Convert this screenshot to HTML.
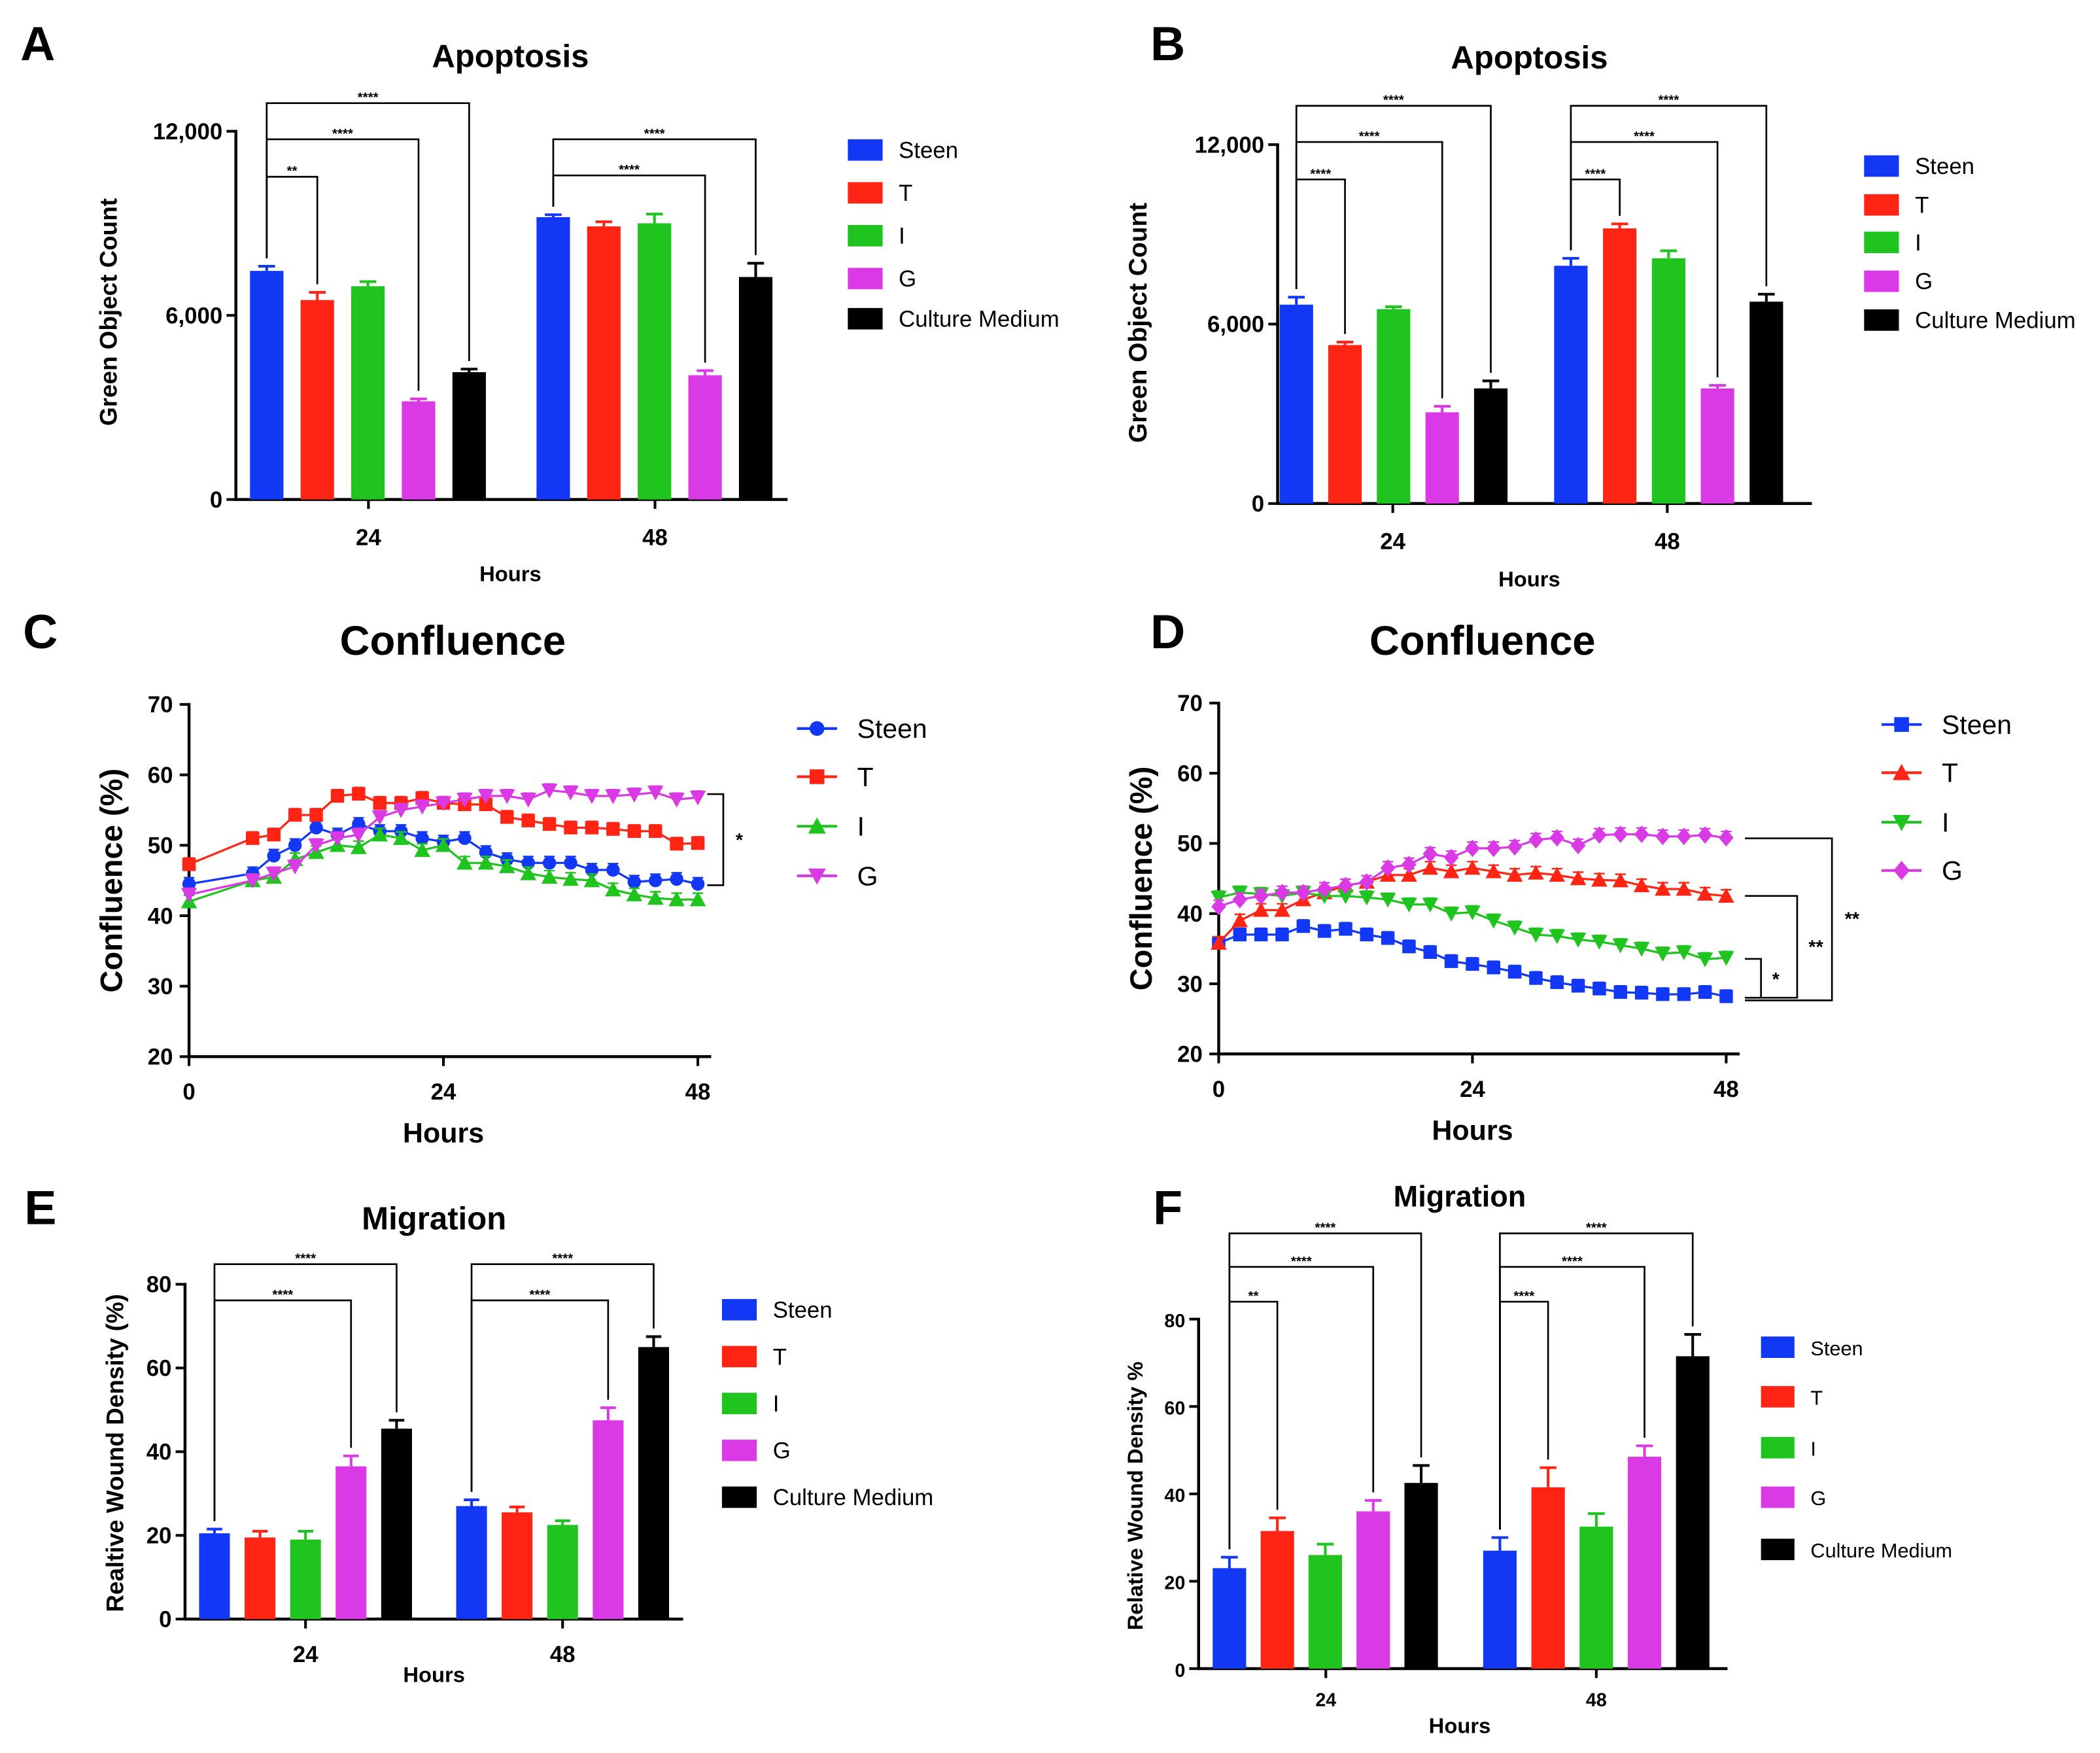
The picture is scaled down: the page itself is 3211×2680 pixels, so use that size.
<!DOCTYPE html>
<html><head><meta charset="utf-8"><style>
html,body{margin:0;padding:0;background:#fff}
svg{display:block;font-family:"Liberation Sans",Arial,sans-serif}
</style></head><body>
<svg id="fig" width="3211" height="2680" viewBox="0 0 1568 1309" xmlns="http://www.w3.org/2000/svg"></svg>
<script>
// ---------- data ----------
const groupLabels = ["24","48"];
const seriesNames = ["Steen","T","I","G","Culture Medium"];
const lineNames = ["Steen","T","I","G"];
const colors = ["#1238f5","#ff2414","#1fc41f","#d93ae6","#000000"];

const aValues = [[7450,6500,6950,3200,4150],[9200,8900,9000,4050,7250]];
const aErrors = [[150,250,150,80,100],[80,150,300,150,450]];
const bValues = [[6650,5300,6500,3050,3850],[7950,9200,8200,3850,6750]];
const bErrors = [[250,100,80,200,250],[250,150,250,100,250]];
const eValues = [[20.5,19.5,19,36.5,45.5],[27,25.5,22.5,47.5,65]];
const eErrors = [[1,1.5,2,2.5,2],[1.5,1.3,1,3,2.5]];
const fValues = [[23,31.5,26,36,42.5],[27,41.5,32.5,48.5,71.5]];
const fErrors = [[2.5,3,2.5,2.5,4],[3,4.5,3,2.5,5]];

const cTimes = [0,6,8,10,12,14,16,18,20,22,24,26,28,30,32,34,36,38,40,42,44,46,48];
const cSteen = [44.5,46,48.5,50,52.5,51.5,53,52,52,51,50.5,51,49,48,47.5,47.5,47.5,46.5,46.5,44.8,45,45.2,44.5];
const cT = [47.3,51,51.5,54.3,54.3,57,57.3,56,56,56.7,56,55.8,55.8,54,53.5,53,52.5,52.5,52.3,52,52,50.2,50.3];
const cI = [42,45,45.5,48,49,50,49.7,51.5,51,49.3,50,47.5,47.5,47,46,45.5,45.2,45,43.7,43,42.5,42.3,42.3];
const cG = [43,45,46,47,50,51,51.5,54,55,55.5,56,56.5,57,57,56.5,57.8,57.5,57,57,57.2,57.5,56.5,56.8];

const dTimes = [0,2,4,6,8,10,12,14,16,18,20,22,24,26,28,30,32,34,36,38,40,42,44,46,48];
const dSteen = [35.8,37,37,37,38.2,37.5,37.8,37,36.5,35.3,34.5,33.2,32.8,32.3,31.7,30.8,30.2,29.7,29.3,28.8,28.7,28.5,28.5,28.8,28.2];
const dT = [35.8,39,40.5,40.5,42,43,44,44.5,45.5,45.5,46.5,46,46.5,46,45.5,45.8,45.5,45,44.8,44.7,44,43.5,43.5,42.8,42.5];
const dI = [42.3,43,42.8,42.5,43,42.5,42.5,42.3,42,41.3,41.3,40,40.2,39,38,37,36.8,36.3,36,35.5,35,34.3,34.5,33.5,33.7];
const dG = [41,42,42.5,43,43,43.5,44,44.5,46.5,47,48.5,48,49.3,49.3,49.5,50.5,50.8,49.7,51.2,51.3,51.3,51,51,51.2,50.8];

const yTicksApop = [0,6000,12000];
const yTickLabelsApop = ["0","6,000","12,000"];
const yTicksConf = [20,30,40,50,60,70];
const xTicksConf = [0,24,48];
const yTicksMig = [0,20,40,60,80];

// ---------- helpers ----------
const svg = document.getElementById('fig');
const NS = "http://www.w3.org/2000/svg";
function mk(tag, attrs, parent){
  const e = document.createElementNS(NS, tag);
  for (const k in attrs) e.setAttribute(k, attrs[k]);
  (parent||svg).appendChild(e);
  return e;
}
function txt(x,y,s,size,opts,parent){
  const e = mk('text',Object.assign({x:x,y:y,'font-size':size,'font-weight':'bold','text-anchor':'middle','fill':'#000'},opts||{}),parent);
  e.textContent = s;
  return e;
}
function lin(d0,d1,r0,r1){return v=>r0+(v-d0)*(r1-r0)/(d1-d0);}

// ---------- bar panel ----------
function barPanel(p){
  const g = mk('g',{});
  
  
  const y = lin(0,p.ymax,p.y0,p.y1);
  const title = txt(p.titleX,p.titleY,p.title,p.titleSize,{},g);
  
  
  const letter = txt(p.letterX,p.letterY,p.letter,36,{'font-weight':'900'},g);
  
  
  // axes
  const ya = mk('line',{x1:p.ax,y1:p.y0,x2:p.ax,y2:p.y1-1,stroke:'#000','stroke-width':2.2},g);
  
  
  const xa = mk('line',{x1:p.ax-1,y1:p.y0,x2:p.axEnd,y2:p.y0,stroke:'#000','stroke-width':2.2},g);
  
  
  p.ticks.forEach((t,i)=>{
    mk('line',{x1:p.ax-7,y1:y(t),x2:p.ax,y2:y(t),stroke:'#000','stroke-width':2},g);
    const tl = txt(p.ax-10,y(t)+6,p.tickLabels[i],p.tickSize,{'text-anchor':'end'},g);
    
    
  });
  const yl = txt(0,0,p.ylabel,p.ylabelSize,{transform:`translate(${p.ylabelX},${p.ylabelY}) rotate(-90)`},g);
  
  
  p.groupCenters.forEach((gc,gi)=>{
    mk('line',{x1:gc,y1:p.y0,x2:gc,y2:p.y0+7,stroke:'#000','stroke-width':2},g);
    const xl = txt(gc,p.y0+p.xlabelDy,groupLabels[gi],p.tickSize,{},g);
    
    
    p.values[gi].forEach((v,si)=>{
      const cx = p.barX[gi][si];
      const b = mk('rect',{x:cx-p.bw/2,y:y(v),width:p.bw,height:p.y0-y(v),fill:colors[si]},g);
      
      
      const et = y(v+p.errors[gi][si]);
      mk('line',{x1:cx,y1:y(v),x2:cx,y2:et,stroke:colors[si],'stroke-width':2},g);
      mk('line',{x1:cx-p.bw/4,y1:et,x2:cx+p.bw/4,y2:et,stroke:colors[si],'stroke-width':2},g);
    });
  });
  const xt = txt(p.hoursX,p.hoursY,'Hours',p.hoursSize,{},g);
  
  
  // brackets
  p.brackets.forEach(br=>{
    const [gi,a,b,by,label]=br;
    const xa_=p.barX[gi][a], xb=p.barX[gi][b];
    const ya_=y(p.values[gi][a]+p.errors[gi][a])-6, yb=y(p.values[gi][b]+p.errors[gi][b])-6;
    const pl = mk('polyline',{points:`${xa_},${ya_} ${xa_},${by} ${xb},${by} ${xb},${yb}`,fill:'none',stroke:'#000','stroke-width':1.3},g);
    
    
    const s = txt((xa_+xb)/2,by-1,label,10,{},g);
    
    
  });
  // legend
  seriesNames.forEach((n,i)=>{
    const ly = p.legY[i];
    const r = mk('rect',{x:p.legX,y:ly-8,width:p.legW,height:16,fill:colors[i]},g);
    
    
    const t = txt(p.legX+p.legW+12,ly+6,n,p.legSize,{'text-anchor':'start','font-weight':'normal'},g);
    
    
  });
}

// ---------- line panel ----------
function marker(g,shape,x,y,c,s){
  let e;
  if(shape==='circle') e=mk('circle',{cx:x,cy:y,r:s,fill:c},g);
  else if(shape==='square') e=mk('rect',{x:x-s,y:y-s,width:2*s,height:2*s,fill:c},g);
  else if(shape==='up') e=mk('polygon',{points:`${x},${y-s*1.2} ${x-s*1.2},${y+s} ${x+s*1.2},${y+s}`,fill:c},g);
  else if(shape==='down') e=mk('polygon',{points:`${x},${y+s*1.2} ${x-s*1.2},${y-s} ${x+s*1.2},${y-s}`,fill:c},g);
  else e=mk('polygon',{points:`${x},${y-s*1.3} ${x+s*1.1},${y} ${x},${y+s*1.3} ${x-s*1.1},${y}`,fill:c},g);
  return e;
}
function linePanel(p){
  const g = mk('g',{});
  
  
  const x = lin(0,48,p.ax,p.x48), y = lin(20,70,p.y20,p.y70);
  const title = txt(p.titleX,p.titleY,'Confluence',31,{},g);
  
  
  const letter = txt(p.letterX,p.letterY,p.letter,36,{'font-weight':'900'},g);
  
  
  const ya = mk('line',{x1:p.ax,y1:p.y20,x2:p.ax,y2:p.y70-1,stroke:'#000','stroke-width':2.2},g);
  
  
  const xa = mk('line',{x1:p.ax-1,y1:p.y20,x2:p.x48+10,y2:p.y20,stroke:'#000','stroke-width':2.2},g);
  
  
  yTicksConf.forEach(t=>{
    mk('line',{x1:p.ax-7,y1:y(t),x2:p.ax,y2:y(t),stroke:'#000','stroke-width':2},g);
    const tl = txt(p.ax-12,y(t)+6,String(t),17,{'text-anchor':'end'},g);
    
    
  });
  xTicksConf.forEach(t=>{
    mk('line',{x1:x(t),y1:p.y20,x2:x(t),y2:p.y20+7,stroke:'#000','stroke-width':2},g);
    const tl = txt(x(t),p.y20+32,String(t),17,{},g);
    
    
  });
  const yl = txt(0,0,'Confluence (%)',23,{transform:`translate(${p.ax-50},${y(45)}) rotate(-90)`},g);
  
  
  const xt = txt(x(24),p.y20+64,'Hours',21,{},g);
  
  
  p.series.forEach((s,si)=>{
    const pts = p.times.map((t,i)=>`${x(t)},${y(s[i])}`).join(' ');
    const l = mk('polyline',{points:pts,fill:'none',stroke:colors[si],'stroke-width':1.6},g);
    
    
    p.times.forEach((t,i)=>{
      const ey = y(s[i]+0.9);
      mk('line',{x1:x(t),y1:ey,x2:x(t),y2:y(s[i]),stroke:colors[si],'stroke-width':1.2},g);
      mk('line',{x1:x(t)-4,y1:ey,x2:x(t)+4,y2:ey,stroke:colors[si],'stroke-width':1.2},g);
      const m = marker(g,p.shapes[si],x(t),y(s[i]),colors[si],5);
      
      
    });
  });
  lineNames.forEach((n,i)=>{
    const ly = p.legY[i];
    mk('line',{x1:p.legX,y1:ly,x2:p.legX+30,y2:ly,stroke:colors[i],'stroke-width':2},g);
    const mm = marker(g,p.shapes[i],p.legX+15,ly,colors[i],5.5);
    
    
    const t = txt(p.legX+45,ly+7,n,20,{'text-anchor':'start','font-weight':'normal'},g);
    
    
  });
  p.brackets.forEach(b=>{
    const [x1,y1,x2,y2,lab,lx,lyy]=b;
    const pl = mk('polyline',{points:`${x1},${y1} ${x2},${y1} ${x2},${y2} ${x1},${y2}`,fill:'none',stroke:'#000','stroke-width':1.3},g);
    
    
    const s = txt(lx,lyy,lab,14,{},g);
    
    
  });
}

function centers(start,step,n){const a=[];for(let i=0;i<n;i++)a.push(start+i*step);return a;}

// Panel A
barPanel({name:'panel-a-apoptosis',letter:'A',letterX:28,letterY:45,title:'Apoptosis',titleX:381,titleY:50,titleSize:24,
  ax:176,axEnd:588,y0:373,y1:98,ymax:12000,ticks:yTicksApop,tickLabels:yTickLabelsApop,tickSize:17,
  ylabel:'Green Object Count',ylabelX:87,ylabelY:233,ylabelSize:18,
  groupCenters:[275,489],barX:[centers(199,37.8,5),centers(413,37.8,5)],bw:25,xlabelDy:34,
  values:aValues,errors:aErrors,hoursX:381,hoursY:434,hoursSize:16,
  brackets:[[0,0,1,132,'**'],[0,0,3,104,'****'],[0,0,4,77,'****'],[1,0,3,131,'****'],[1,0,4,104,'****']],
  legX:633,legW:26,legY:[112,144,176,208,238],legSize:17});
// Panel B
barPanel({name:'panel-b-apoptosis',letter:'B',letterX:872,letterY:45,title:'Apoptosis',titleX:1142,titleY:51,titleSize:24,
  ax:954,axEnd:1353,y0:376,y1:108,ymax:12000,ticks:yTicksApop,tickLabels:yTickLabelsApop,tickSize:17,
  ylabel:'Green Object Count',ylabelX:856,ylabelY:241,ylabelSize:19,
  groupCenters:[1040,1245],barX:[centers(968,36.3,5),centers(1173,36.5,5)],bw:25,xlabelDy:34,
  values:bValues,errors:bErrors,hoursX:1142,hoursY:438,hoursSize:16,
  brackets:[[0,0,1,134,'****'],[0,0,3,106,'****'],[0,0,4,79,'****'],[1,0,1,134,'****'],[1,0,3,106,'****'],[1,0,4,79,'****']],
  legX:1392,legW:26,legY:[124,153,181,210,239],legSize:17});
// Panel C
linePanel({name:'panel-c-confluence',letter:'C',letterX:30,letterY:484,titleX:338,titleY:489,
  ax:141,x48:521,y20:789,y70:526,times:cTimes,series:[cSteen,cT,cI,cG],shapes:['circle','square','up','down'],
  legX:595,legY:[544,580,617,654],
  brackets:[[528,593,540,661,'*',552,632]]});
// Panel D
linePanel({name:'panel-d-confluence',letter:'D',letterX:872,letterY:484,titleX:1107,titleY:489,
  ax:910,x48:1289,y20:787,y70:525,times:dTimes,series:[dSteen,dT,dI,dG],shapes:['square','up','down','diamond'],
  legX:1405,legY:[541,577,614,650],
  brackets:[[1303,716,1315,745,'*',1326,736],[1303,669,1342,745,'**',1356,712],[1303,626,1368,747,'**',1383,691]]});
// Panel E
barPanel({name:'panel-e-migration',letter:'E',letterX:30,letterY:914,title:'Migration',titleX:324,titleY:918,titleSize:24,
  ax:138,axEnd:510,y0:1209,y1:959,ymax:80,ticks:yTicksMig,tickLabels:yTicksMig.map(String),tickSize:17,
  ylabel:'Realtive Wound Density (%)',ylabelX:92,ylabelY:1085,ylabelSize:18,
  groupCenters:[228,420],barX:[centers(160,34,5),centers(352,34,5)],bw:23,xlabelDy:32,
  values:eValues,errors:eErrors,hoursX:324,hoursY:1256,hoursSize:16,
  brackets:[[0,0,3,971,'****'],[0,0,4,944,'****'],[1,0,3,971,'****'],[1,0,4,944,'****']],
  legX:539,legW:26,legY:[978,1013,1048,1083,1118],legSize:17});
// Panel F
barPanel({name:'panel-f-migration',letter:'F',letterX:872,letterY:914,title:'Migration',titleX:1090,titleY:901,titleSize:22,
  ax:895,axEnd:1290,y0:1246,y1:985,ymax:80,ticks:yTicksMig,tickLabels:yTicksMig.map(String),tickSize:14,
  ylabel:'Relative Wound Density %',ylabelX:853,ylabelY:1117,ylabelSize:16,
  groupCenters:[990,1192],barX:[centers(918,35.8,5),centers(1120,36,5)],bw:25,xlabelDy:28,
  values:fValues,errors:fErrors,hoursX:1090,hoursY:1294,hoursSize:16,
  brackets:[[0,0,1,972,'**'],[0,0,3,946,'****'],[0,0,4,921,'****'],[1,0,1,972,'****'],[1,0,3,946,'****'],[1,0,4,921,'****']],
  legX:1315,legW:25,legY:[1006,1043,1081,1118,1157],legSize:15});
</script>
</body></html>
